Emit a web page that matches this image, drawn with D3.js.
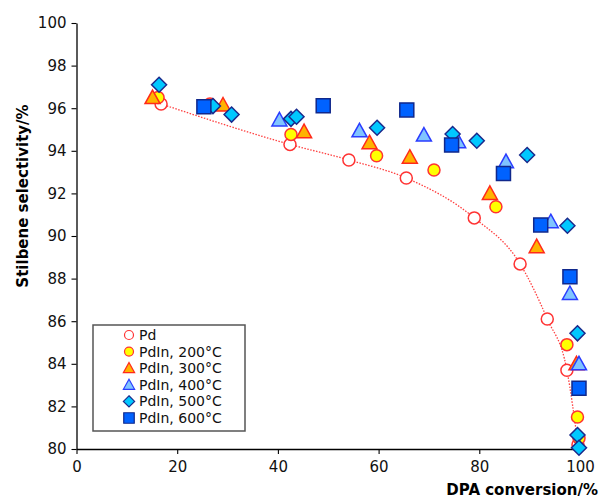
<!DOCTYPE html>
<html>
<head>
<meta charset="utf-8">
<script src="https://cdn.jsdelivr.net/npm/d3@7"></script>
<style>
  body { margin: 0; background: #fff; }
  text { font-family: "Century Gothic", "URW Gothic", "DejaVu Sans", sans-serif; }
</style>
</head>
<body>
<svg id="chart" width="601" height="502"></svg>
<script>
// series: [conversion %, selectivity %]
const pd = [[16.8, 96.2], [42.4, 94.3], [54.1, 93.57], [65.5, 92.72], [79.0, 90.85], [88.1, 88.69], [93.5, 86.1], [97.4, 83.7], [99.6, 80.2]];
const pdIn200 = [[16.2, 96.5], [26.5, 96.2], [42.6, 94.77], [59.6, 93.77], [71.0, 93.1], [83.3, 91.37], [97.4, 84.9], [99.5, 81.5], [99.8, 80.5]];
const pdIn300 = [[15.1, 96.5], [29.1, 96.15], [45.2, 94.9], [58.2, 94.38], [66.2, 93.7], [82.1, 92.0], [91.4, 89.5], [99.3, 84.0]];
const pdIn400 = [[40.3, 95.45], [56.2, 94.94], [69.0, 94.74], [75.8, 94.43], [85.3, 93.49], [94.2, 90.67], [98.0, 87.3], [99.8, 84.0]];
const pdIn500 = [[16.4, 97.1], [27.1, 96.1], [30.8, 95.7], [42.6, 95.5], [43.7, 95.6], [59.7, 95.08], [74.7, 94.79], [79.5, 94.47], [89.5, 93.8], [97.5, 90.48], [99.5, 85.43], [99.5, 80.66], [99.8, 80.06]];
const pdIn600 = [[25.3, 96.07], [49.0, 96.12], [65.6, 95.92], [74.5, 94.27], [84.8, 92.94], [92.2, 90.52], [98.0, 88.09], [99.8, 82.85]];

const xTicks = [0, 20, 40, 60, 80, 100];
const yTicks = [80, 82, 84, 86, 88, 90, 92, 94, 96, 98, 100];

const series = [
    { name: 'Pd', data: pd, shape: 'circle', fill: '#ffffff', stroke: '#ff3333' },
    { name: 'PdIn, 200°C', data: pdIn200, shape: 'circle', fill: '#ffff00', stroke: '#ff3333' },
    { name: 'PdIn, 300°C', data: pdIn300, shape: 'triangle', fill: '#ffb300', stroke: '#ff2a1a' },
    { name: 'PdIn, 400°C', data: pdIn400, shape: 'triangle', fill: '#80c4ff', stroke: '#2a3cff' },
    { name: 'PdIn, 500°C', data: pdIn500, shape: 'diamond', fill: '#00c8ff', stroke: '#1a2a8c' },
    { name: 'PdIn, 600°C', data: pdIn600, shape: 'square', fill: '#0062ff', stroke: '#10288c' }
];

const margin = { top: 23, right: 21, bottom: 53, left: 76.5 };
const width = 601, height = 502;

const svg = d3.select('#chart');

const x = d3.scaleLinear().domain([0, 100]).range([margin.left, width - margin.right]);
const y = d3.scaleLinear().domain([80, 100]).range([height - margin.bottom, margin.top]);

function shapePath(shape) {
    if (shape === 'circle') return 'M6,0A6,6 0 1,1 -6,0A6,6 0 1,1 6,0Z';
    if (shape === 'triangle') return 'M0,-7.5L7.5,6L-7.5,6Z';
    if (shape === 'diamond') return 'M0,-7.5L7.5,0L0,7.5L-7.5,0Z';
    return 'M-7,-7L7,-7L7,7L-7,7Z';
}

// axes
const yAxis = svg.append('g')
    .attr('transform', `translate(${margin.left},0)`)
    .call(d3.axisLeft(y).tickValues(yTicks).tickSize(5).tickPadding(5).tickSizeOuter(0));
const xAxis = svg.append('g')
    .attr('transform', `translate(0,${height - margin.bottom})`)
    .call(d3.axisBottom(x).tickValues(xTicks).tickSize(5).tickPadding(7).tickSizeOuter(0));

[xAxis, yAxis].forEach(a => {
    a.selectAll('.domain').attr('stroke', '#000').attr('stroke-width', 1.3);
    a.selectAll('.tick line').attr('stroke', '#000').attr('stroke-width', 1.1);
    a.selectAll('.tick text').attr('font-size', 15).attr('fill', '#111')
        .attr('font-family', '"Century Gothic", "DejaVu Sans", sans-serif');
});

// trend line through Pd
const line = d3.line()
    .x(d => x(d[0]))
    .y(d => y(d[1]))
    .curve(d3.curveMonotoneX);

svg.append('path')
    .datum(pd)
    .attr('fill', 'none')
    .attr('stroke', '#ff4040')
    .attr('stroke-width', 1.3)
    .attr('stroke-dasharray', '1.5,1.5')
    .attr('d', line);

// markers
series.forEach(s => {
    svg.append('g')
        .selectAll('path')
        .data(s.data)
        .join('path')
        .attr('transform', d => `translate(${x(d[0])},${y(d[1])})`)
        .attr('d', shapePath(s.shape))
        .attr('fill', s.fill)
        .attr('stroke', s.stroke)
        .attr('stroke-width', 1.5);
});

// legend
const legend = svg.append('g');
legend.append('rect')
    .attr('x', 93).attr('y', 325)
    .attr('width', 152).attr('height', 106)
    .attr('fill', '#fff')
    .attr('stroke', '#555')
    .attr('stroke-width', 1.5);

const item = legend.selectAll('g.item')
    .data(series)
    .join('g')
    .attr('class', 'item')
    .attr('transform', (d, i) => `translate(129,${335 + i * 16.6})`);

item.append('path')
    .attr('d', d => shapePath(d.shape))
    .attr('transform', 'scale(0.75)')
    .attr('fill', d => d.fill)
    .attr('stroke', d => d.stroke)
    .attr('stroke-width', 1.6);

item.append('text')
    .attr('x', 10)
    .attr('dy', '0.35em')
    .attr('font-size', 14)
    .attr('fill', '#111')
    .text(d => d.name);

// axis titles
svg.append('text')
    .attr('transform', `translate(28,${(margin.top + height - margin.bottom) / 2 - 40}) rotate(-90)`)
    .attr('text-anchor', 'middle')
    .attr('font-size', 15)
    .attr('font-weight', 'bold')
    .text('Stilbene selectivity/%');

svg.append('text')
    .attr('x', 598)
    .attr('y', 495)
    .attr('text-anchor', 'end')
    .attr('font-size', 15)
    .attr('font-weight', 'bold')
    .text('DPA conversion/%');
</script>
</body>
</html>
